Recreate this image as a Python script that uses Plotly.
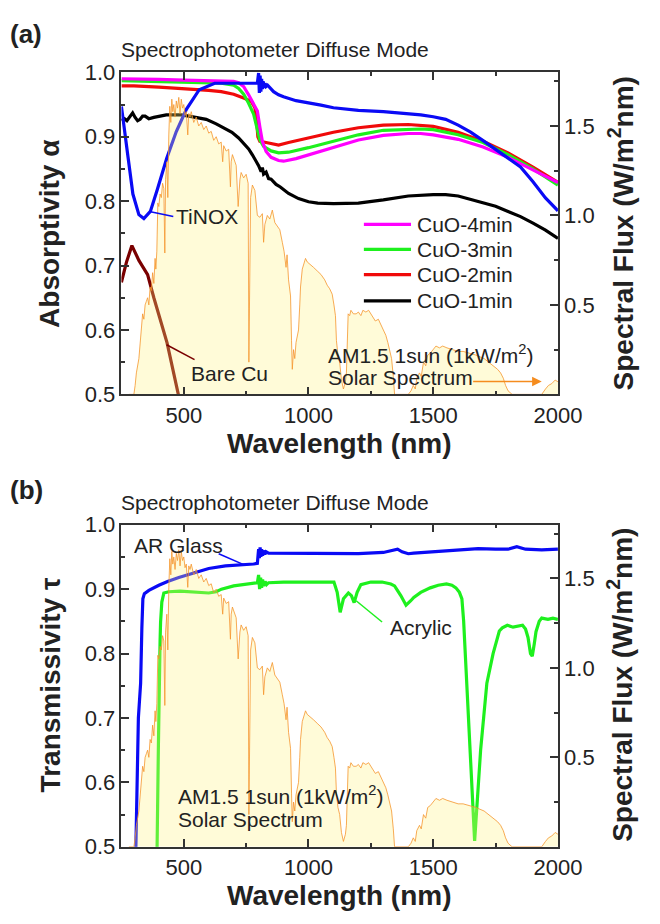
import plotly.graph_objects as go

# ---------------- data ----------------
# AM1.5 solar spectral flux (W/m^2 nm)
spec_wl = [280, 300, 305, 310, 320, 330, 335, 340, 345, 350, 355, 360, 365, 370, 375, 380,
           385, 388, 392, 396, 400, 405, 410, 415, 420, 424, 427, 432, 436, 440, 444, 448,
           452, 456, 460, 465, 470, 475, 480, 485, 490, 495, 500, 505, 510, 516, 520, 525,
           530, 540, 550, 560, 570, 580, 590, 600, 610, 620, 630, 640, 650, 656, 660, 670,
           680, 687, 690, 695, 700, 710, 718, 725, 730, 740, 750, 758, 761, 765, 768, 775,
           785, 795, 805, 815, 820, 825, 835, 845, 855, 865, 875, 885, 895, 902, 910, 914,
           920, 928, 932, 935, 940, 945, 950, 955, 960, 965, 968, 975, 980, 988, 995, 1005,
           1020, 1035, 1050, 1065, 1075, 1085, 1095, 1102, 1108, 1112, 1118, 1125, 1132, 1140,
           1148, 1152, 1156, 1159, 1165, 1170, 1180, 1191, 1200, 1210, 1218, 1230, 1241, 1250,
           1257, 1268, 1280, 1290, 1299, 1310, 1318, 1325, 1333, 1340, 1345, 1400, 1405, 1411,
           1420, 1428, 1434, 1445, 1452, 1461, 1470, 1478, 1488, 1500, 1511, 1525, 1538, 1555,
           1577, 1600, 1620, 1642, 1670, 1704, 1730, 1758, 1770, 1781, 1790, 1800, 1816, 1935,
           1950, 1962, 1975, 1989, 2000]
spec_flux = [0.0, 0.0, 0.05, 0.12, 0.20, 0.38, 0.45, 0.42, 0.50, 0.52, 0.54, 0.50, 0.60, 0.58, 0.68, 0.62,
             0.76, 0.70, 0.80, 1.07, 1.05, 1.12, 1.10, 1.18, 1.15, 0.79, 1.20, 1.30, 1.10, 1.45, 1.61, 1.52,
             1.65, 1.58, 1.62, 1.55, 1.64, 1.60, 1.66, 1.57, 1.65, 1.60, 1.62, 1.56, 1.58, 1.45, 1.57, 1.55,
             1.58, 1.52, 1.55, 1.50, 1.52, 1.48, 1.50, 1.46, 1.47, 1.42, 1.44, 1.40, 1.41, 1.30, 1.39, 1.36,
             1.37, 1.16, 1.30, 1.34, 1.32, 1.28, 1.05, 1.20, 1.24, 1.21, 1.23, 1.18, 0.18, 0.55, 1.10, 1.17,
             1.14, 1.00, 0.99, 1.01, 0.85, 0.95, 1.00, 0.98, 1.03, 0.96, 0.94, 0.92, 0.85, 0.80, 0.71, 0.78,
             0.64, 0.55, 0.30, 0.14, 0.25, 0.20, 0.29, 0.33, 0.36, 0.50, 0.60, 0.70, 0.72, 0.76, 0.74, 0.73,
             0.71, 0.69, 0.67, 0.64, 0.61, 0.59, 0.56, 0.50, 0.44, 0.30, 0.22, 0.18, 0.08, 0.03,
             0.07, 0.12, 0.30, 0.45, 0.44, 0.47, 0.45, 0.45, 0.46, 0.44, 0.47, 0.46, 0.47, 0.45,
             0.43, 0.41, 0.42, 0.39, 0.36, 0.33, 0.29, 0.25, 0.20, 0.10, 0.0, 0.0, 0.01, 0.02,
             0.05, 0.03, 0.09, 0.12, 0.10, 0.18, 0.16, 0.22, 0.23, 0.25, 0.27, 0.26, 0.27, 0.26,
             0.25, 0.24, 0.24, 0.23, 0.22, 0.20, 0.17, 0.14, 0.12, 0.09, 0.05, 0.02, 0.0, 0.0,
             0.03, 0.05, 0.06, 0.08, 0.07]

# (a) absorptivity
cuo4_wl = [250, 300, 400, 500, 600, 650, 700, 720, 740, 760, 780, 795, 805, 815, 830, 850, 880, 900,
           950, 1000, 1050, 1100, 1200, 1300, 1400, 1450, 1500, 1600, 1700, 1800, 1850, 1900, 1950, 2000]
cuo4_a = [0.990, 0.990, 0.989, 0.988, 0.987, 0.987, 0.986, 0.984, 0.978, 0.965, 0.950, 0.940, 0.915,
          0.893, 0.877, 0.868, 0.863, 0.862, 0.866, 0.872, 0.878, 0.884, 0.895, 0.902, 0.905, 0.905,
          0.903, 0.896, 0.884, 0.868, 0.858, 0.848, 0.838, 0.829]

cuo3_wl = [250, 500, 650, 700, 720, 740, 760, 780, 795, 805, 820, 850, 880, 920, 1000, 1040, 1100,
           1200, 1300, 1400, 1450, 1500, 1600, 1700, 1800, 1900, 2000]
cuo3_a = [0.987, 0.985, 0.983, 0.980, 0.975, 0.966, 0.952, 0.935, 0.910, 0.895, 0.885, 0.878, 0.875,
          0.876, 0.883, 0.887, 0.893, 0.903, 0.910, 0.912, 0.912, 0.911, 0.903, 0.891, 0.872, 0.850, 0.825]

cuo2_wl = [250, 300, 400, 500, 600, 650, 700, 740, 770, 785, 792, 797, 805, 830, 880, 920, 1000, 1040,
           1100, 1200, 1300, 1400, 1450, 1500, 1600, 1700, 1800, 1900, 2000]
cuo2_a = [0.979, 0.979, 0.977, 0.975, 0.972, 0.970, 0.966, 0.960, 0.955, 0.945, 0.925, 0.900, 0.893,
          0.891, 0.887, 0.891, 0.898, 0.902, 0.907, 0.914, 0.918, 0.919, 0.918, 0.916, 0.907, 0.893,
          0.875, 0.853, 0.829]

cuo1_wl = [250, 262, 272, 285, 295, 305, 315, 325, 335, 345, 360, 380, 400, 430, 460, 490, 520, 550,
           590, 630, 660, 693, 720, 740, 760, 775, 790, 800, 810, 815, 820, 830, 840, 850, 870, 887, 920,
           960, 1000, 1037, 1100, 1200, 1300, 1400, 1500, 1550, 1600, 1700, 1750, 1800, 1850, 1900,
           1950, 2000]
cuo1_a = [0.925, 0.928, 0.925, 0.933, 0.937, 0.930, 0.925, 0.927, 0.932, 0.932, 0.928, 0.930, 0.932,
          0.934, 0.934, 0.934, 0.932, 0.930, 0.927, 0.920, 0.914, 0.907, 0.898, 0.890, 0.881, 0.872,
          0.862, 0.855, 0.846, 0.852, 0.842, 0.845, 0.835, 0.834, 0.826, 0.822, 0.812, 0.804, 0.799,
          0.797, 0.796, 0.797, 0.802, 0.808, 0.810, 0.810, 0.808, 0.798, 0.792, 0.784, 0.776, 0.766,
          0.755, 0.742]

tinox_wl = [250, 260, 277, 296, 320, 340, 366, 393, 432, 470, 511, 562, 624, 700, 780, 795, 800, 803,
            806, 809, 812, 815, 818, 822, 826, 830, 836, 845, 860, 880, 900, 950, 1000, 1050, 1100,
            1200, 1300, 1400, 1450, 1500, 1550, 1600, 1650, 1700, 1750, 1800, 1850, 1900, 1950, 2000]
tinox_a = [0.947, 0.915, 0.867, 0.811, 0.779, 0.773, 0.784, 0.817, 0.867, 0.908, 0.943, 0.973, 0.983,
           0.983, 0.983, 0.983, 0.999, 0.968, 0.995, 0.970, 0.990, 0.974, 0.986, 0.976, 0.983, 0.978,
           0.980, 0.976, 0.970, 0.965, 0.962, 0.956, 0.953, 0.949, 0.945, 0.941, 0.939, 0.936, 0.934,
           0.931, 0.927, 0.918, 0.907, 0.894, 0.880, 0.866, 0.853, 0.830, 0.805, 0.785]

barecu_wl = [250, 270, 292, 320, 355, 380, 433, 480, 495]
barecu_a = [0.674, 0.705, 0.731, 0.708, 0.686, 0.650, 0.580, 0.500, 0.470]

# (b) transmissivity
arglass_wl = [300, 308, 318, 327, 332, 336, 342, 360, 400, 435, 480, 539, 600, 667, 720, 780, 795,
              800, 803, 806, 809, 812, 816, 820, 825, 830, 840, 900, 1000, 1100, 1200, 1300, 1340,
              1357, 1375, 1400, 1422, 1500, 1600, 1680, 1750, 1800, 1835, 1870, 1935, 2000]
arglass_t = [0.45, 0.50, 0.70, 0.754, 0.84, 0.885, 0.893, 0.898, 0.906, 0.912, 0.918, 0.925, 0.932,
             0.936, 0.937, 0.939, 0.940, 0.962, 0.948, 0.965, 0.950, 0.962, 0.952, 0.960, 0.954, 0.958,
             0.956, 0.956, 0.955, 0.955, 0.955, 0.957, 0.960, 0.962, 0.958, 0.955, 0.956, 0.958, 0.961,
             0.963, 0.962, 0.962, 0.966, 0.962, 0.961, 0.962]

acrylic_wl = [385, 393, 398, 401, 405, 407, 412, 420, 440, 485, 550, 600, 630, 651, 700, 767, 795, 800,
              804, 808, 812, 816, 820, 826, 832, 840, 900, 1000, 1102, 1115, 1127, 1140, 1160, 1172,
              1183, 1195, 1210, 1250, 1295, 1330, 1345, 1370, 1391, 1410, 1422, 1450, 1488, 1520, 1553,
              1575, 1591, 1605, 1615, 1622, 1630, 1635, 1650, 1666, 1690, 1715, 1740, 1765, 1777, 1797,
              1820, 1840, 1858, 1870, 1880, 1890, 1897, 1905, 1912, 1925, 1935, 1960, 1980, 2000]
acrylic_t = [0.45, 0.50, 0.65, 0.754, 0.82, 0.849, 0.88, 0.894, 0.896, 0.897, 0.896, 0.894, 0.896,
             0.900, 0.905, 0.909, 0.910, 0.922, 0.900, 0.918, 0.902, 0.915, 0.905, 0.912, 0.907, 0.910,
             0.911, 0.911, 0.911, 0.895, 0.864, 0.885, 0.894, 0.890, 0.879, 0.895, 0.907, 0.911, 0.911,
             0.908, 0.905, 0.890, 0.875, 0.882, 0.887, 0.895, 0.902, 0.906, 0.908, 0.906, 0.902, 0.895,
             0.885, 0.850, 0.790, 0.754, 0.630, 0.509, 0.650, 0.754, 0.800, 0.835, 0.840, 0.844, 0.841,
             0.843, 0.844, 0.838, 0.825, 0.800, 0.796, 0.815, 0.834, 0.850, 0.855, 0.853, 0.855, 0.853]

legend_names = ["CuO-4min", "CuO-3min", "CuO-2min", "CuO-1min"]
x_ticks = [500, 1000, 1500, 2000]
left_ticks = [0.5, 0.6, 0.7, 0.8, 0.9, 1.0]
right_ticks = [0.5, 1.0, 1.5]

# ---------------- styling ----------------
W, H = 660, 924
FONT = "Arial, Liberation Sans, sans-serif"
TXT = "#222222"
AX = "#333333"
C_MAG, C_GRN, C_RED, C_BLK = "#FF00FF", "#1EF01E", "#F00A0A", "#000000"
C_BLUE, C_CU = "#0A0AF5", "#7A0000"
SPEC_LINE = "rgba(245,150,45,0.8)"
SPEC_FILL = "rgba(255,242,125,0.30)"
LW = 3.2


def px(x):
    return x / W


def py(y):
    return 1 - y / H


XDOM = [px(126), px(579)]
TOPDOM = [py(393), py(62)]
BOTDOM = [py(858), py(527)]

fig = go.Figure()


def line(x, y, color, xa, ya, width=LW):
    fig.add_trace(go.Scatter(x=x, y=y, mode="lines", xaxis=xa, yaxis=ya,
                             line=dict(color=color, width=width), showlegend=False,
                             hoverinfo="skip"))


# panel (a): absorptivity curves on the base axis, solar spectrum on the overlay axis
line(cuo1_wl, cuo1_a, C_BLK, "x", "y")
line(cuo2_wl, cuo2_a, C_RED, "x", "y")
line(cuo3_wl, cuo3_a, C_GRN, "x", "y")
line(cuo4_wl, cuo4_a, C_MAG, "x", "y")
line(tinox_wl, tinox_a, C_BLUE, "x", "y")
line(barecu_wl, barecu_a, C_CU, "x", "y")
fig.add_trace(go.Scatter(x=spec_wl, y=spec_flux, mode="lines", xaxis="x", yaxis="y2",
                         fill="tozeroy", fillcolor=SPEC_FILL, line=dict(color=SPEC_LINE, width=1),
                         showlegend=False, hoverinfo="skip"))

# panel (b): transmissivity
line(arglass_wl, arglass_t, C_BLUE, "x2", "y3")
line(acrylic_wl, acrylic_t, C_GRN, "x2", "y3")
fig.add_trace(go.Scatter(x=spec_wl, y=spec_flux, mode="lines", xaxis="x2", yaxis="y4",
                         fill="tozeroy", fillcolor=SPEC_FILL, line=dict(color=SPEC_LINE, width=1),
                         showlegend=False, hoverinfo="skip"))

tickfont = dict(family=FONT, size=22, color=TXT)
common = dict(showline=True, linecolor=AX, linewidth=1.5, ticks="inside", ticklen=8,
              tickwidth=1.5, tickcolor=AX, showgrid=False, zeroline=False, tickfont=tickfont)


def xaxis(anchor):
    return dict(common, domain=XDOM, anchor=anchor, range=[250, 2000], tickmode="array",
                tickvals=x_ticks, mirror="ticks",
                minor=dict(tickmode="array", tickvals=[250, 750, 1250, 1750], ticks="inside",
                           ticklen=4, tickwidth=1.5, tickcolor=AX))


def leftaxis(dom, anchor):
    return dict(common, domain=dom, anchor=anchor, range=[0.5, 1.0], side="left",
                tickmode="array", tickvals=left_ticks, tickformat=".1f",
                minor=dict(tickmode="array", tickvals=[0.55, 0.65, 0.75, 0.85, 0.95],
                           ticks="inside", ticklen=4, tickwidth=1.5, tickcolor=AX))


def rightaxis(over, anchor):
    return dict(common, overlaying=over, anchor=anchor, side="right", range=[0, 1.8],
                tickmode="array", tickvals=right_ticks, tickformat=".1f",
                minor=dict(tickmode="array", tickvals=[0.25, 0.75, 1.25, 1.75],
                           ticks="inside", ticklen=4, tickwidth=1.5, tickcolor=AX))


fig.update_layout(
    width=W, height=H, margin=dict(l=0, r=0, t=0, b=0),
    paper_bgcolor="white", plot_bgcolor="white", showlegend=False,
    xaxis=xaxis("y"), yaxis=leftaxis(TOPDOM, "x"), yaxis2=rightaxis("y", "x"),
    xaxis2=xaxis("y3"), yaxis3=leftaxis(BOTDOM, "x2"), yaxis4=rightaxis("y3", "x2"),
)

ann = []
shapes = []


def text(x, y, s, size=21, bold=False, xanchor="left", angle=0, xref="paper", yref="paper"):
    ann.append(dict(x=x, y=y, xref=xref, yref=yref, text=f"<b>{s}</b>" if bold else s,
                    showarrow=False, xanchor=xanchor, yanchor="middle", textangle=angle,
                    font=dict(family=FONT, size=size, color=TXT)))


# panel labels and headers
text(px(8), py(23), "(a)", size=26, bold=True)
text(px(8), py(491), "(b)", size=26, bold=True)
text(px(124), py(39), "Spectrophotometer Diffuse Mode", size=21)
text(px(124), py(504), "Spectrophotometer Diffuse Mode", size=21)

# axis titles
text(px(52), py(228), "Absorptivity α", size=28, bold=True, xanchor="center", angle=-90)
text(px(52), py(692), "Transmissivity τ", size=28, bold=True, xanchor="center", angle=-90)
for yc in (228, 692):
    text(px(644), py(yc), "Spectral Flux (W/m<sup>2</sup>nm)", size=28, bold=True,
         xanchor="center", angle=-90)
text(px(352), py(443), "Wavelength (nm)", size=28, bold=True, xanchor="center")
text(px(352), py(908), "Wavelength (nm)", size=28, bold=True, xanchor="center")

# legend of panel (a)
for name, col, yv in zip(legend_names, [C_MAG, C_GRN, C_RED, C_BLK],
                         [0.764, 0.725, 0.686, 0.645]):
    shapes.append(dict(type="line", xref="x", yref="y", x0=1222, x1=1411, y0=yv, y1=yv,
                       line=dict(color=col, width=LW)))
    text(1428, yv, name, xref="x", yref="y")

# curve labels, panel (a)
text(462, 0.776, "TiNOX", xref="x", yref="y")
shapes.append(dict(type="line", xref="x", yref="y", x0=362, y0=0.784, x1=458, y1=0.776,
                   line=dict(color=C_BLUE, width=1.5)))
text(522, 0.532, "Bare Cu", xref="x", yref="y")
shapes.append(dict(type="line", xref="x", yref="y", x0=431, y0=0.577, x1=543, y1=0.554,
                   line=dict(color=C_CU, width=1.5)))
text(1072, 0.562, "AM1.5 1sun (1kW/m<sup>2</sup>)", xref="x", yref="y")
text(1072, 0.526, "Solar Spectrum", xref="x", yref="y")
ann.append(dict(x=1935, y=0.520, ax=1654, ay=0.520, xref="x", yref="y", axref="x", ayref="y",
                text="", showarrow=True, arrowhead=2, arrowsize=1.2, arrowwidth=1.6,
                arrowcolor="rgb(245,140,30)"))

# curve labels, panel (b)
text(294, 0.968, "AR Glass", xref="x2", yref="y3")
shapes.append(dict(type="line", xref="x2", yref="y3", x0=640, y0=0.955, x1=740, y1=0.938,
                   line=dict(color=C_BLUE, width=1.5)))
text(1318, 0.840, "Acrylic", xref="x2", yref="y3")
shapes.append(dict(type="line", xref="x2", yref="y3", x0=1191, y0=0.882, x1=1295, y1=0.849,
                   line=dict(color=C_GRN, width=1.5)))
text(468, 0.580, "AM1.5 1sun (1kW/m<sup>2</sup>)", xref="x2", yref="y3")
text(468, 0.542, "Solar Spectrum", xref="x2", yref="y3")

fig.update_layout(annotations=ann, shapes=shapes)
fig.write_html("out.html")
